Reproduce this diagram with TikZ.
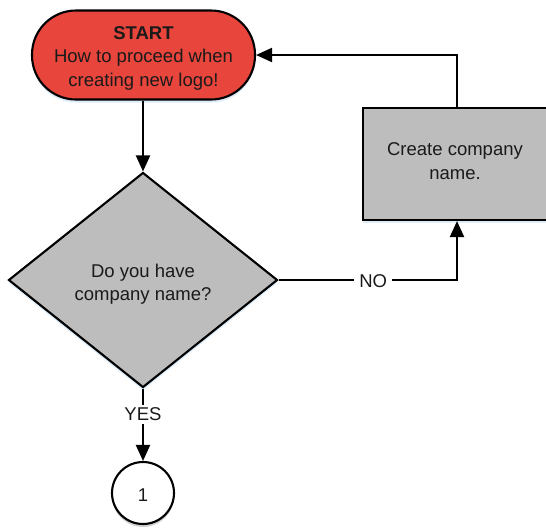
\documentclass[tikz,border=0pt]{standalone}
\usepackage{fontspec}
\setmainfont{Liberation Sans}
\usetikzlibrary{shapes.geometric,arrows.meta,shadows}
\definecolor{startred}{HTML}{E8453C}
\definecolor{boxgray}{HTML}{BDBDBD}
\definecolor{ink}{HTML}{1A1A1A}
\definecolor{shade}{HTML}{9CC8EC}
\begin{document}
\begin{tikzpicture}[x=1pt,y=-1pt,
  every node/.style={font=\fontsize{18.5}{23.5}\selectfont, text=ink, align=center, inner sep=0pt},
  conn/.style={line width=2.1pt, -{Triangle[length=16pt,width=14pt]}},
  softshadow/.style={drop shadow={opacity=0.35, fill=shade, shadow xshift=0pt, shadow yshift=-3pt}},
  startbox/.style={draw, line width=2.1pt, fill=startred, rounded corners=44pt, minimum width=223pt, minimum height=89pt, softshadow},
  decision/.style={draw, line width=2.1pt, fill=boxgray, diamond, minimum width=269pt, minimum height=215pt, inner sep=0pt, softshadow},
  procbox/.style={draw, line width=2.1pt, fill=boxgray, minimum width=184pt, minimum height=112pt, softshadow},
  connector/.style={draw, line width=2.1pt, fill=white, circle, minimum size=62pt, drop shadow={opacity=0.3, fill=black!60, shadow xshift=0pt, shadow yshift=-3pt}},
  lbl/.style={fill=white, inner xsep=5pt, inner ysep=3pt}
]
\useasboundingbox (0,0) rectangle (546,528);
\node[startbox] (start) at (143.5,55) {};
\node (starttxt) at (143.5,58) {\textbf{START}\\How to proceed when\\creating new logo!};
\node[decision] (dec) at (143,280) {};
\node (dectxt) at (143,284) {Do you have\\company name?};
\node[procbox] (proc) at (455,164) {};
\node (proctxt) at (455,161) {Create company\\name.};
\node[connector] (one) at (143,493) {};
\node (onetxt) at (143,495) {1};
\coordinate (c1) at (457,280);
\coordinate (c2) at (457,55);
\draw[conn] (start.south -| dec.north) -- (dec.north);
\draw[conn] (dec.east) -- node[lbl, pos=0.53, yshift=-1.5pt] (no) {NO} (c1) -- (proc.south -| c1);
\draw[conn] (proc.north -| c2) -- (c2) -- (start.east);
\draw[conn] (dec.south) -- node[lbl, pos=0.36] (yes) {YES} (one.north);
\end{tikzpicture}
\end{document}
